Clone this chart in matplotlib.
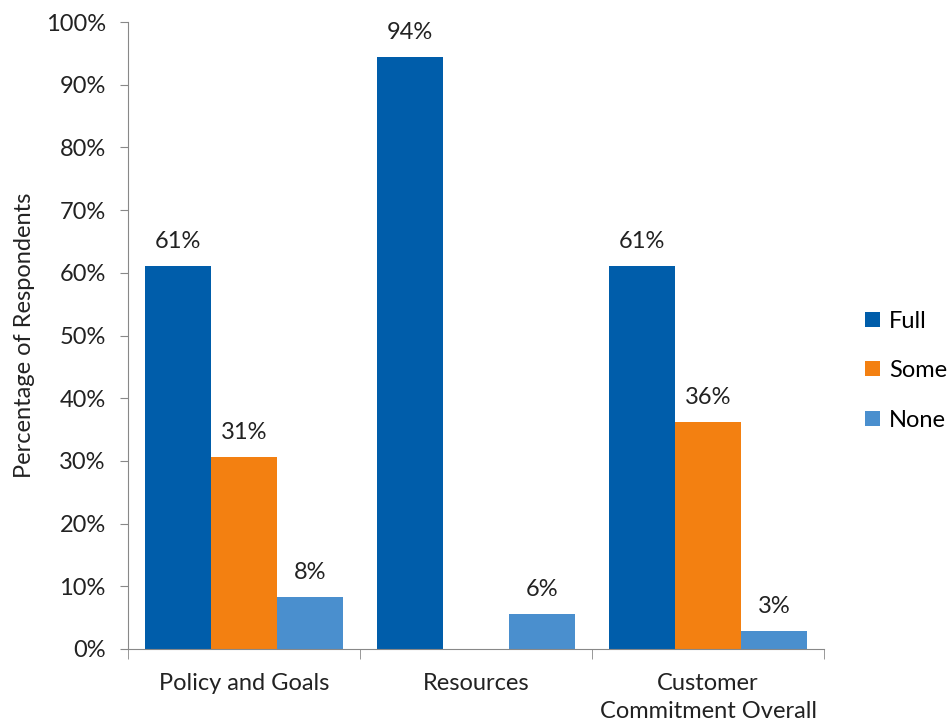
import numpy as np
import matplotlib.pyplot as plt
from matplotlib.ticker import PercentFormatter

plt.rcParams['font.family'] = ['Lato', 'DejaVu Sans']

categories = ["Policy and Goals", "Resources", "Customer\nCommitment Overall"]
series = ["Full", "Some", "None"]
full = [61.1, 94.4, 61.1]
some = [30.7, 0.0, 36.2]
none = [8.3, 5.6, 2.9]
colors = ["#005DAA", "#F38011", "#4A8FCE"]

fs = 17
ink = "#222222"

fig = plt.figure(figsize=(9.5, 7.24), dpi=100)
ax = fig.add_axes([0.1347, 0.1036, 0.7327, 0.866])

x = np.arange(len(categories))
w = 0.2845
for i, (name, vals) in enumerate(zip(series, [full, some, none])):
    pos = x + (i - 1) * w
    bars = ax.bar(pos, vals, w, color=colors[i], label=name)
    for b, v in zip(bars, vals):
        if v > 0:
            ax.annotate("%.0f%%" % v, (b.get_x() + b.get_width() / 2, v),
                        xytext=(0, 10), textcoords="offset points",
                        ha="center", va="bottom", fontsize=fs, color=ink)

ax.set_xlim(-0.5, 2.5)
ax.set_ylim(0, 100)
ax.set_yticks(np.arange(0, 101, 10))
ax.yaxis.set_major_formatter(PercentFormatter(decimals=0))

ax.set_xticks(x)
ax.set_xticklabels(categories, fontsize=fs, color=ink, linespacing=1.45, va="top")
ax.set_xticks([-0.5, 0.5, 1.5, 2.5], minor=True)
ax.tick_params(axis="x", which="major", length=0, pad=17)
ax.tick_params(axis="x", which="minor", length=7, color="#888888", direction="out")
ax.tick_params(axis="y", length=6, color="#888888", labelsize=fs, labelcolor=ink, pad=10)

for s in ["top", "right"]:
    ax.spines[s].set_visible(False)
for s in ["left", "bottom"]:
    ax.spines[s].set_color("#888888")

ax.set_ylabel("Percentage of Respondents", fontsize=fs, color=ink, labelpad=8)

fig.legend(loc="center left", bbox_to_anchor=(0.911, 0.488), frameon=False,
           fontsize=fs, handlelength=0.6, handleheight=0.6, handletextpad=0.4,
           labelspacing=1.2, borderaxespad=0, borderpad=0)

fig.savefig("out.png", dpi=100)
